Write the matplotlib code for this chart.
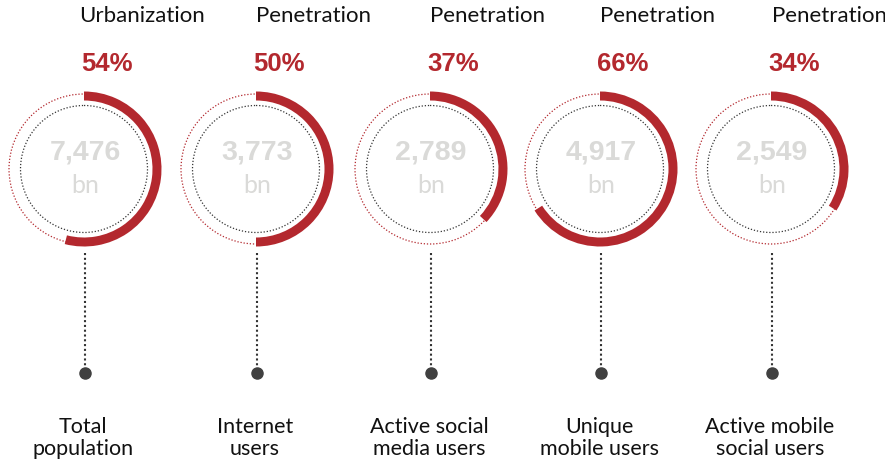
import matplotlib
matplotlib.use("Agg")
import matplotlib.pyplot as plt
from matplotlib.patches import Wedge, Circle

titles = ["Urbanization", "Penetration", "Penetration", "Penetration", "Penetration"]
percents = [54, 50, 37, 66, 34]
values = ["7,476", "3,773", "2,789", "4,917", "2,549"]
unit = "bn"
labels = ["Total\npopulation", "Internet\nusers", "Active social\nmedia users",
          "Unique\nmobile users", "Active mobile\nsocial users"]

RED = "#b3282e"
GREY = "#dadad8"
DARK = "#404040"
FONT = ["Lato", "DejaVu Sans"]
BFONT = ["Liberation Sans", "DejaVu Sans"]

W, H = 885, 464
fig = plt.figure(figsize=(W / 100, H / 100), dpi=100)
ax = fig.add_axes([0, 0, 1, 1])
ax.set_xlim(0, W)
ax.set_ylim(H, 0)
ax.set_aspect("equal")
ax.axis("off")

centers_x = [84, 256, 430, 600, 771]
cy = 170

for i, cx in enumerate(centers_x):
    p = percents[i]
    ax.add_patch(Circle((cx, cy), 75, fill=False, ec=RED, lw=0.9, ls=(0, (1, 1.5))))
    ax.add_patch(Circle((cx, cy), 63.5, fill=False, ec="#333333", lw=0.9, ls=(0, (1, 1.5))))
    theta1 = -90
    theta2 = -90 + 360 * p / 100
    ax.add_patch(Wedge((cx, cy), 77.5, theta1, theta2, width=9, fc=RED, ec="none"))
    ax.text(cx + 1, 160, values[i], ha="center", va="baseline", fontsize=20.5,
            fontweight="bold", color=GREY, family=BFONT)
    ax.text(cx + 1, 193, unit, ha="center", va="baseline", fontsize=18,
            color=GREY, family=FONT)
    ax.text(cx + 23, 71, f"{p}%", ha="center", va="baseline", fontsize=18.5,
            fontweight="bold", color=RED, family=BFONT)
    ax.text(cx + 58, 16, titles[i], ha="center", va="center", fontsize=16,
            color="#111111", family=FONT)
    ax.plot([cx + 1, cx + 1], [254, 370], color="#333333", lw=1.5, ls=(0, (1, 1.3)))
    ax.plot([cx + 1], [374], "o", ms=8, color=DARK)
    ax.text(cx - 1, 438, labels[i], ha="center", va="center", fontsize=15.5,
            color="#111111", family=FONT, linespacing=1.1)

fig.savefig("out.png", dpi=100)
